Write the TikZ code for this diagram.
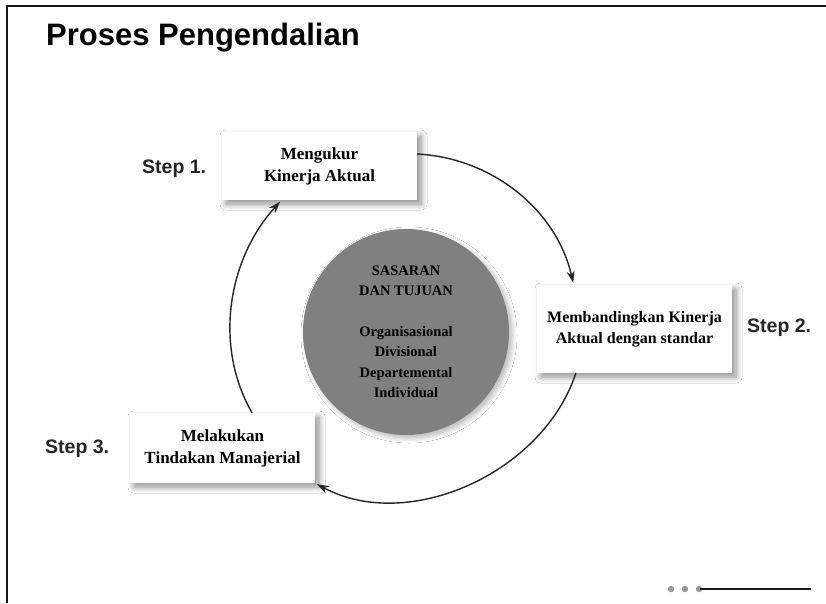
\documentclass[tikz,border=0pt]{standalone}
\usepackage{fontspec}
\setmainfont{Liberation Serif}
\setsansfont{Liberation Sans}
\usetikzlibrary{arrows.meta,shadows.blur}

\begin{document}
\begin{tikzpicture}[x=1pt,y=-1pt,
  stepbox/.style={fill=white, inner sep=0pt, align=center,
    font=\fontsize{17}{22}\selectfont\bfseries,
    blur shadow={shadow xshift=4pt, shadow yshift=-4pt,
      shadow blur radius=6pt, shadow blur steps=20, shadow opacity=45}},
  steplabel/.style={anchor=base west, inner sep=0pt,
    font=\fontsize{19.5}{22}\selectfont\sffamily\bfseries, text=black!85},
  flow/.style={-{Stealth[length=12pt,width=8pt]}, line width=1.4pt,
    black!85, shorten >=2pt}]

  % page area and frame
  \useasboundingbox (0,0) rectangle (826,603);
  \fill[white] (0,0) rectangle (826,603);
  \draw[line width=2.2pt, black!90] (7,603) -- (7,6) -- (826,6);

  % heading
  \node[anchor=base west, inner sep=0pt,
    font=\fontsize{31}{36}\selectfont\sffamily\bfseries] (title)
    at (46,45) {Proses Pengendalian};

  % central goals circle
  \node[circle, minimum size=206pt, inner sep=0pt, fill=black!50,
    blur shadow={shadow xshift=3pt, shadow yshift=-3pt,
      shadow blur radius=5pt, shadow blur steps=20, shadow opacity=30},
    align=center, font=\fontsize{14.5}{20.5}\selectfont\bfseries]
    (goal) at (406,332)
    {SASARAN\\DAN TUJUAN\\[20pt]Organisasional\\Divisional\\Departemental\\Individual};

  % the three steps
  \node[stepbox, minimum width=195pt, minimum height=68pt] (s1) at (319.5,166)
    {Mengukur\\Kinerja Aktual};
  \node[stepbox, minimum width=195pt, minimum height=88pt,
    font=\fontsize{16}{21}\selectfont\bfseries] (s2) at (634.5,329)
    {Membandingkan Kinerja\\Aktual dengan standar};
  \node[stepbox, minimum width=185pt, minimum height=70pt] (s3) at (222.5,448)
    {Melakukan\\Tindakan Manajerial};

  \node[steplabel] (l1) at (142,173) {Step 1.};
  \node[steplabel] (l2) at (747,332) {Step 2.};
  \node[steplabel] (l3) at (45,453) {Step 3.};

  % cycle arrows
  \draw[flow] (s1.7.6) .. controls +(76,4) and +(-17,-74) .. (s2.144);
  \draw[flow] (s2.217) .. controls +(-33,100) and +(93,50) .. (s3.south east);
  \draw[flow] (s3.50) .. controls +(-39,-68) and +(-53,58) .. (s1.222);

  % footer ornament
  \foreach \x in {671,685,699} \fill[black!40] (\x,589) circle (3.2pt);
  \draw[line width=2.6pt, black!90] (700,589) -- (811,589);
\end{tikzpicture}
\end{document}
